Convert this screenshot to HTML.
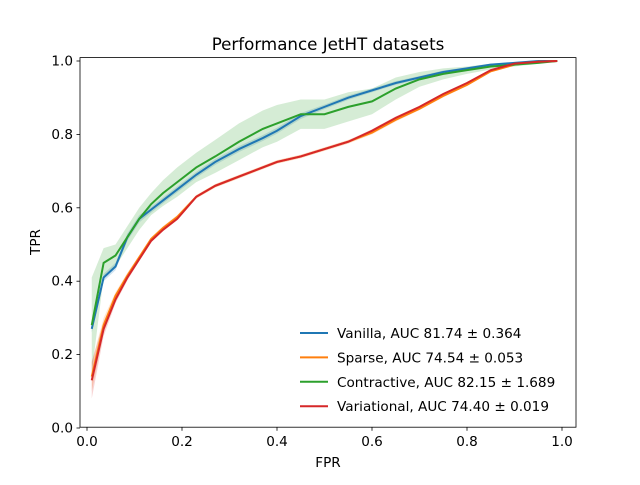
<!DOCTYPE html>
<html><head><meta charset="utf-8"><style>
body{margin:0;background:#fff;}
svg text{font-family:"DejaVu Sans","Liberation Sans",sans-serif;fill:#000;}
</style></head><body>
<svg id="chart" width="640" height="480">
<rect width="640" height="480" fill="#fff"/>
<g id="bands"></g>
<g id="lines"></g>
<rect x="80" y="57.6" width="496" height="369.6" fill="none" stroke="#000" stroke-width="0.8"/>
<g id="ticks"></g>
<text x="328" y="50" font-size="16.7" text-anchor="middle">Performance JetHT datasets</text>
<text x="328" y="467" font-size="13.6" text-anchor="middle">FPR</text>
<text x="40" y="242" font-size="13.6" text-anchor="middle" transform="rotate(-90 40 242)">TPR</text>
<g id="legend"></g>
</svg>
<script>
const xs = [0.01,0.035,0.06,0.085,0.11,0.135,0.16,0.19,0.23,0.27,0.32,0.37,0.4,0.45,0.5,0.55,0.6,0.65,0.7,0.75,0.8,0.85,0.9,0.95,0.99];
const vanilla = [0.27,0.41,0.44,0.52,0.57,0.595,0.62,0.65,0.69,0.725,0.76,0.79,0.81,0.85,0.875,0.90,0.92,0.94,0.955,0.97,0.98,0.99,0.995,1.0,1.0];
const sparse = [0.14,0.28,0.36,0.415,0.465,0.515,0.545,0.575,0.63,0.66,0.685,0.71,0.725,0.74,0.76,0.78,0.805,0.84,0.87,0.905,0.935,0.972,0.99,0.998,1.0];
const contractive = [0.28,0.45,0.47,0.52,0.57,0.61,0.64,0.67,0.71,0.74,0.78,0.815,0.83,0.855,0.855,0.875,0.89,0.925,0.95,0.965,0.975,0.985,0.99,0.995,1.0];
const variational = [0.13,0.27,0.35,0.41,0.46,0.51,0.54,0.57,0.63,0.66,0.685,0.71,0.725,0.74,0.76,0.78,0.81,0.845,0.875,0.91,0.94,0.975,0.993,0.998,1.0];
const vanillaErr = [0.01,0.01,0.01,0.01,0.01,0.008,0.008,0.008,0.008,0.008,0.008,0.008,0.008,0.008,0.006,0.006,0.005,0.005,0.004,0.004,0.003,0.003,0.002,0.001,0];
const sparseErr = [0.04,0.02,0.01,0.008,0.006,0.005,0.005,0.005,0.005,0.005,0.005,0.005,0.005,0.005,0.005,0.005,0.005,0.005,0.004,0.004,0.003,0.003,0.002,0.001,0];
const contractiveErr = [0.13,0.04,0.03,0.03,0.03,0.03,0.035,0.04,0.04,0.045,0.05,0.05,0.05,0.04,0.04,0.04,0.035,0.03,0.02,0.015,0.01,0.008,0.005,0.003,0];
const variationalErr = [0.05,0.02,0.01,0.008,0.005,0.004,0.004,0.004,0.004,0.004,0.004,0.004,0.004,0.004,0.004,0.004,0.004,0.004,0.003,0.003,0.002,0.002,0.001,0.001,0];
const xTicks = [0,0.2,0.4,0.6,0.8,1.0];
const yTicks = [0,0.2,0.4,0.6,0.8,1.0];
const xTickLabels = ["0.0","0.2","0.4","0.6","0.8","1.0"];
const yTickLabels = ["0.0","0.2","0.4","0.6","0.8","1.0"];
const seriesNames = ["Vanilla, AUC 81.74 ± 0.364","Sparse, AUC 74.54 ± 0.053","Contractive, AUC 82.15 ± 1.689","Variational, AUC 74.40 ± 0.019"];

const NS="http://www.w3.org/2000/svg";
const X = v => 87 + v*475;
const Y = v => 428 - v*367;
const colors=["#1f77b4","#ff7f0e","#2ca02c","#d62728"];
const keys=["vanilla","sparse","contractive","variational"];
const data=[vanilla,sparse,contractive,variational];
const errs=[vanillaErr,sparseErr,contractiveErr,variationalErr];
function mk(tag,attrs,parent){const e=document.createElementNS(NS,tag);for(const k in attrs)e.setAttribute(k,attrs[k]);parent.appendChild(e);return e;}
const bands=document.getElementById('bands'),lines=document.getElementById('lines');
data.forEach((d,i)=>{
  let up=xs.map((x,j)=>X(x)+','+Y(d[j]+errs[i][j]));
  let lo=xs.map((x,j)=>X(x)+','+Y(d[j]-errs[i][j])).reverse();
  const b=mk('polygon',{points:up.concat(lo).join(' '),fill:colors[i],'fill-opacity':0.2},bands);
  
  
});
data.forEach((d,i)=>{
  const l=mk('polyline',{points:xs.map((x,j)=>X(x)+','+Y(d[j])).join(' '),fill:'none',stroke:colors[i],'stroke-width':2},lines);
  
  
});
const tk=document.getElementById('ticks');
xTicks.forEach((t,i)=>{
  mk('line',{x1:X(t),x2:X(t),y1:427.2,y2:430.7,stroke:'#000','stroke-width':0.8},tk);
  const tx=mk('text',{x:X(t),y:446,'font-size':13.6,'text-anchor':'middle'},tk);
  tx.textContent=xTickLabels[i];
  
  
});
yTicks.forEach((t,i)=>{
  mk('line',{x1:76.5,x2:80,y1:Y(t),y2:Y(t),stroke:'#000','stroke-width':0.8},tk);
  const tx=mk('text',{x:73,y:Y(t)+4.5,'font-size':13.6,'text-anchor':'end'},tk);
  tx.textContent=yTickLabels[i];
  
  
});
const lg=document.getElementById('legend');
seriesNames.forEach((n,i)=>{
  const y=333+i*24.4;
  const g=mk('g',{},lg);
  
  
  mk('line',{x1:300,x2:328,y1:y,y2:y,stroke:colors[i],'stroke-width':2},g);
  const t=mk('text',{x:337,y:y+5,'font-size':13.6},g);
  t.textContent=n;
});
</script>
</body></html>
